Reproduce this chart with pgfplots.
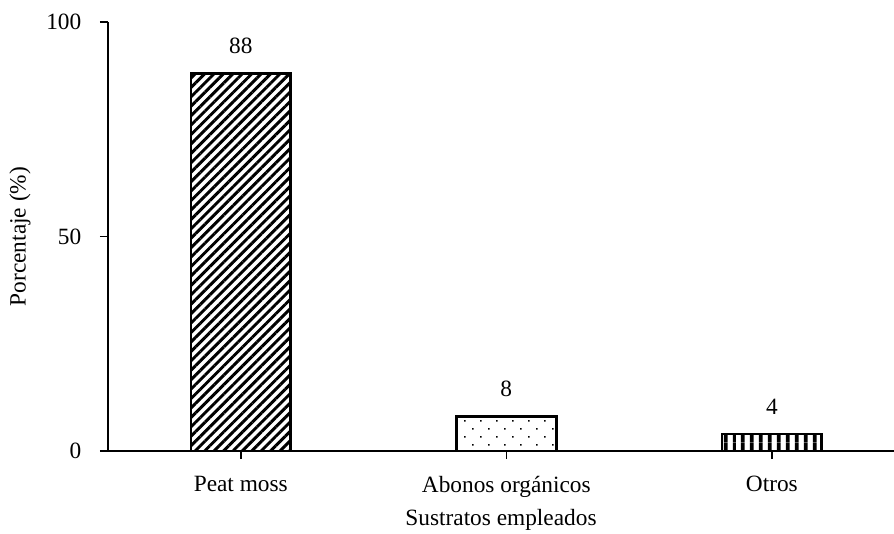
\documentclass[border=0pt]{standalone}
\usepackage{pgfplots}
\pgfplotsset{compat=1.18}
\usepackage{fontspec}
\setmainfont{Liberation Serif}
\usetikzlibrary{patterns.meta}
\begin{document}
\fontsize{17.5}{20}\selectfont
\begin{tikzpicture}
\begin{axis}[
  scale only axis,
  width=589.5pt, height=321.75pt,
  ymin=0, ymax=100,
  xmin=-0.5, xmax=2.46,
  axis x line*=bottom,
  axis y line*=left,
  axis line style={line width=1.2pt},
  ytick={0,50,100},
  xtick={0,1,2},
  xticklabels={Peat moss, Abonos orgánicos, Otros},
  tick style={black, line width=1.2pt},
  major tick length=6pt,
  xtick align=outside, ytick align=outside,
  /pgf/number format/assume math mode=true,
  tick label style={font=\fontsize{17.5}{20}\selectfont},
  yticklabel style={xshift=-8pt},
  xticklabel style={yshift=-7pt},
  xlabel={Sustratos empleados},
  ylabel={Porcentaje (\%)},
  label style={font=\fontsize{17.5}{20}\selectfont},
  xlabel style={yshift=3pt},
  ylabel style={yshift=0pt},
  ybar, bar width=0.376, bar shift=0pt,
  nodes near coords,
  every node near coord/.append style={font=\fontsize{17.5}{20}\selectfont, yshift=8pt},
  clip=false,
]
\addplot[draw=black, line width=2pt, pattern={Lines[angle=45,distance=5pt,line width=2.2pt]}] coordinates {(0,88)};
\addplot[draw=black, line width=2pt, pattern={Dots[radius=0.8pt,distance=8.5pt,angle=45]}] coordinates {(1,8)};
\addplot[draw=black, line width=2pt, pattern={Lines[angle=90,distance=6.5pt,line width=3pt]}] coordinates {(2,4)};
\end{axis}
\pgfresetboundingbox
\useasboundingbox ([xshift=-81pt,yshift=-61.5pt]current axis.south west) rectangle ([yshift=16.5pt]current axis.north east);
\end{tikzpicture}
\end{document}
